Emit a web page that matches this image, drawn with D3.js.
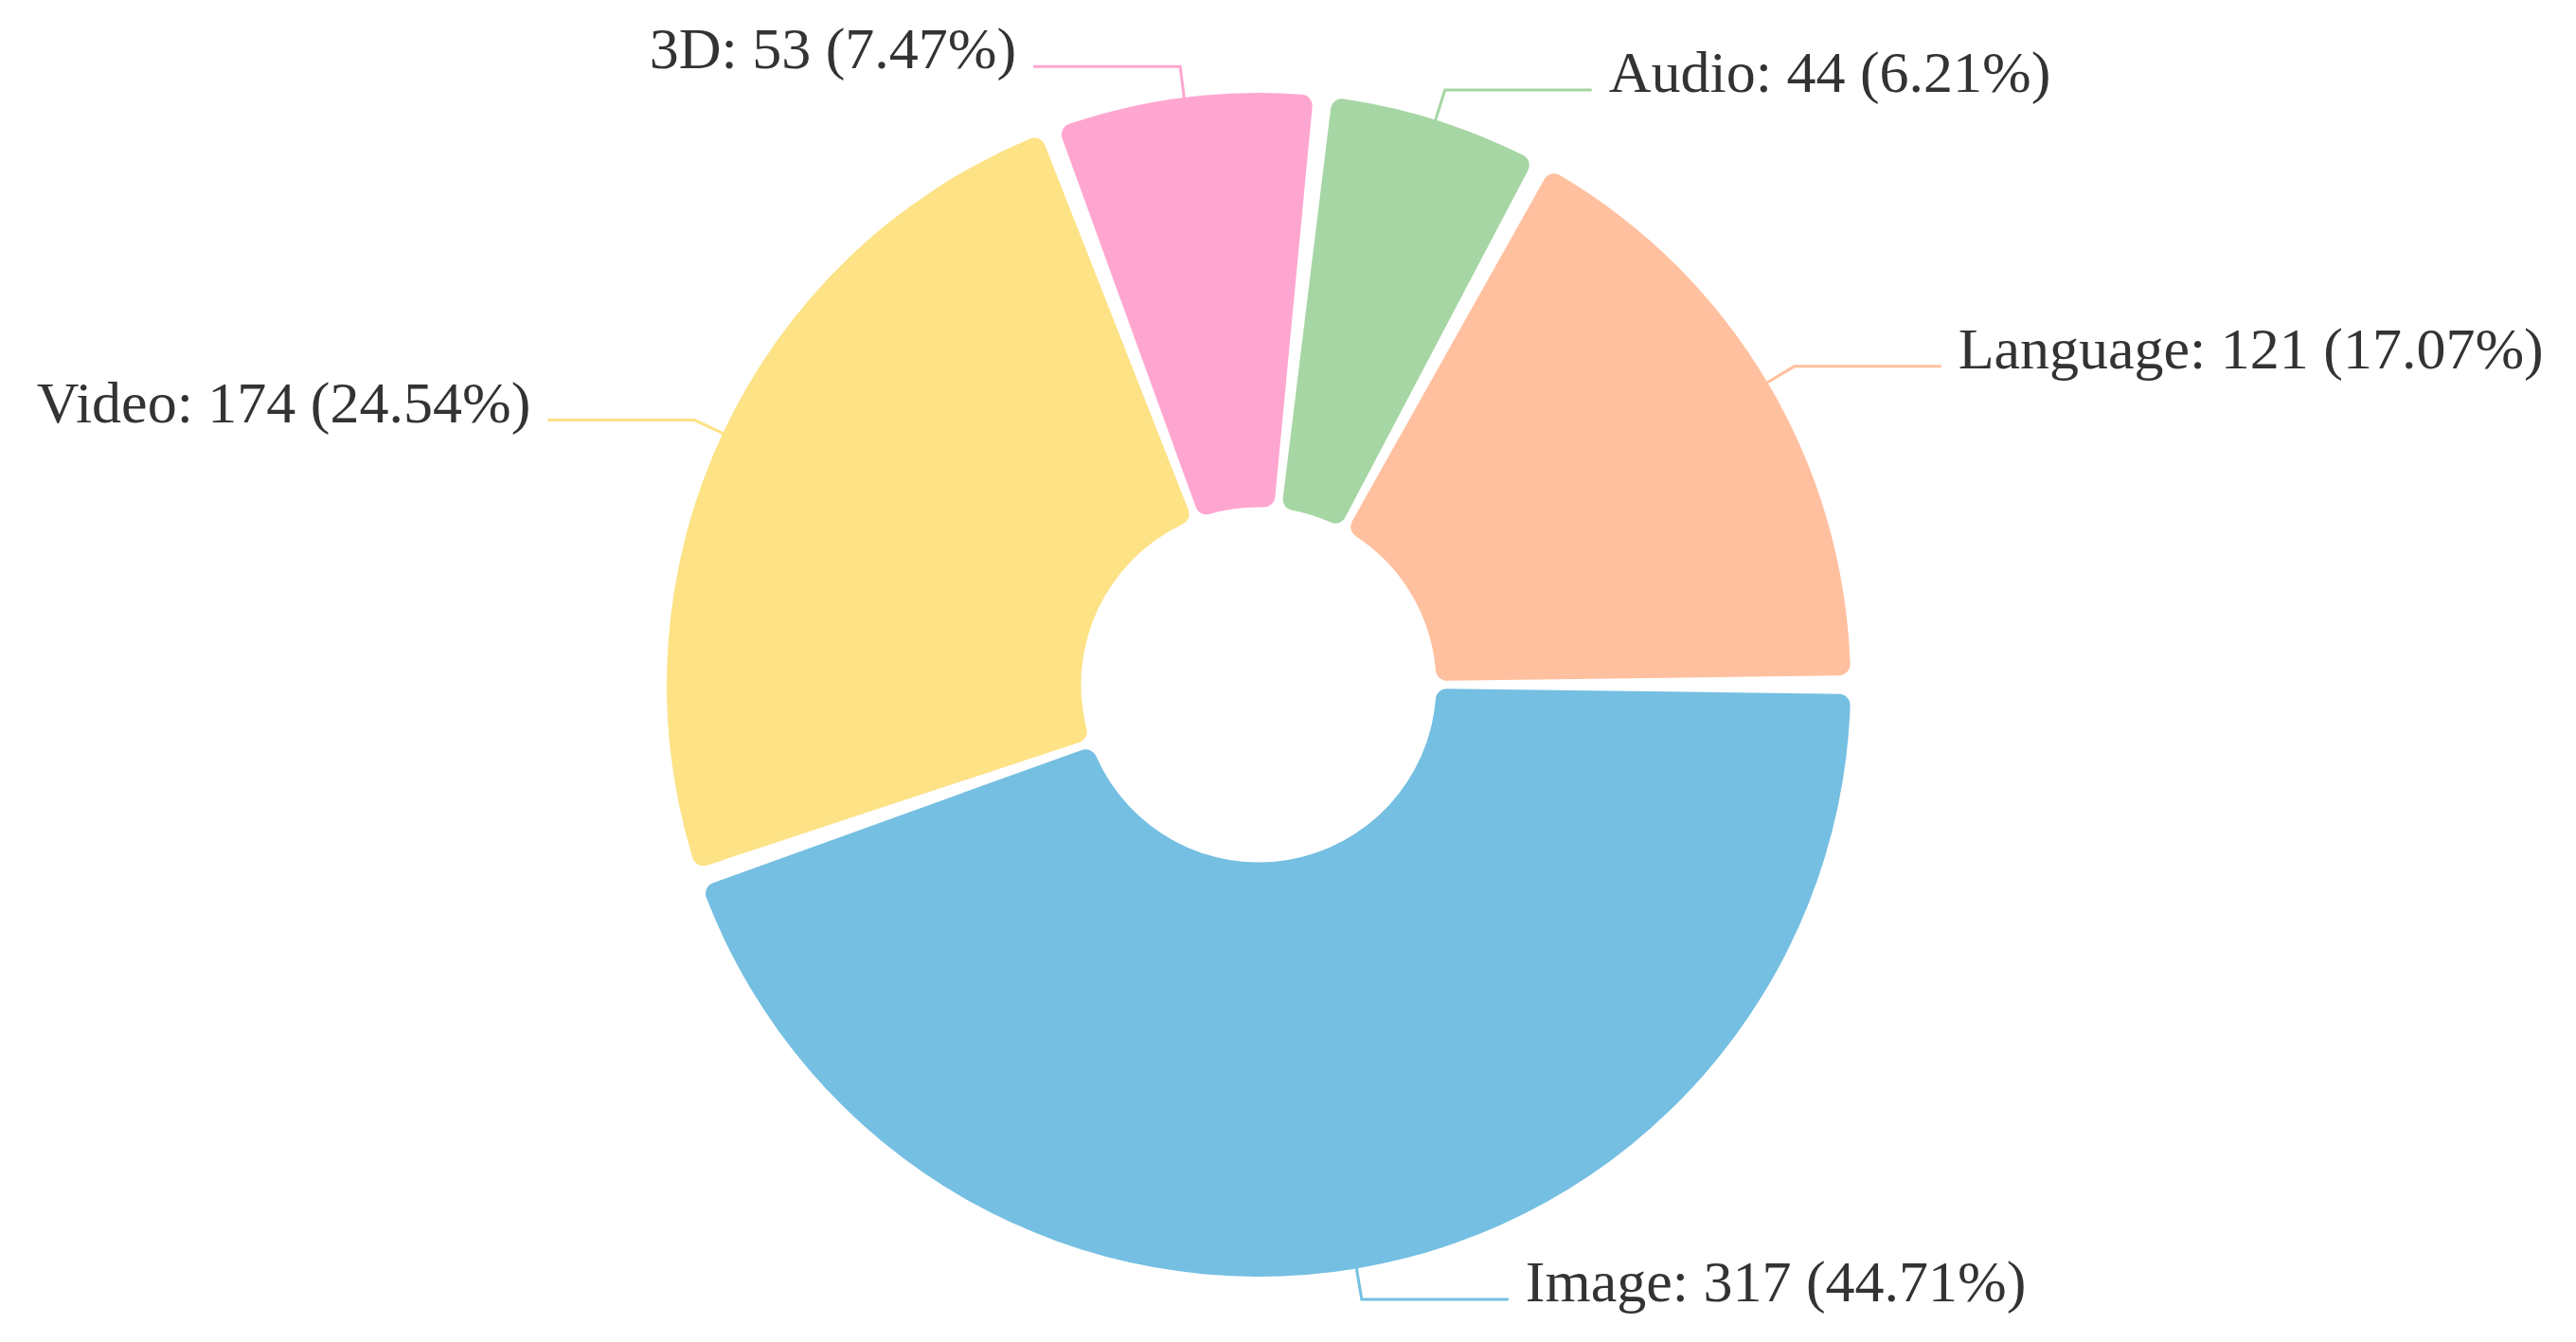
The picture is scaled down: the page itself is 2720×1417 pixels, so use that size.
<!DOCTYPE html>
<html>
<head>
<meta charset="utf-8">
<script src="https://cdn.jsdelivr.net/npm/d3@7"></script>
<style>
  html, body { margin: 0; padding: 0; background: #ffffff; }
  svg { display: block; }
</style>
</head>
<body>
<svg id="chart" width="2720" height="1417"></svg>
<script>
// ---- data ----
const categories = ["Image", "Video", "3D", "Audio", "Language"];
const values = [317, 174, 53, 44, 121];
const percentLabels = ["44.71", "24.54", "7.47", "6.21", "17.07"];
const colors = ["#75bfe2", "#fde286", "#ffa6d0", "#a5d6a3", "#ffc09f"];

// ---- layout ----
const W = 2720, H = 1417;
const cx = 1329, cy = 723;
const R = 625, r0 = R * 0.3;
const angTrim = 0.027;       // angular gap between slices
const linGap = 3;            // constant-width part of the gap
const elbowR = R + 33;
const seg2 = 155;
const textGap = 18;

const svg = d3.select("#chart");
svg.append("rect").attr("width", W).attr("height", H).attr("fill", "#ffffff");
const g = svg.append("g").attr("transform", `translate(${cx},${cy})`);

const data = categories.map((c, i) => ({ name: c, value: values[i], pct: percentLabels[i], color: colors[i] }));

const pie = d3.pie().sort(null).value(d => d.value)
  .startAngle(Math.PI / 2).endAngle(Math.PI / 2 + 2 * Math.PI);
const arcs = pie(data);

const arc = d3.arc()
  .innerRadius(r0).outerRadius(R)
  .cornerRadius(12)
  .padRadius(R)
  .padAngle(linGap / R)
  .startAngle(d => d.startAngle + angTrim / 2)
  .endAngle(d => d.endAngle - angTrim / 2);

g.selectAll("path.slice").data(arcs).enter().append("path")
  .attr("class", "slice")
  .attr("d", arc)
  .attr("fill", d => d.data.color);

// ---- labels ----
const pt = (a, rad) => [Math.sin(a) * rad, -Math.cos(a) * rad];

arcs.forEach(d => {
  const mid = (d.startAngle + d.endAngle) / 2;
  const p0 = pt(mid, R - 4);
  const p1 = pt(mid, elbowR);
  const right = Math.sin(mid) >= 0;
  const p2 = [p1[0] + (right ? seg2 : -seg2), p1[1]];
  g.append("polyline")
    .attr("points", [p0, p1, p2].map(p => p.join(",")).join(" "))
    .attr("fill", "none")
    .attr("stroke", d.data.color)
    .attr("stroke-width", 3);
  g.append("text")
    .attr("x", p2[0] + (right ? textGap : -textGap))
    .attr("y", p2[1] + 2)
    .attr("text-anchor", right ? "start" : "end")
    .attr("font-family", "'Liberation Serif', 'Times New Roman', serif")
    .attr("font-size", 62)
    .attr("fill", "#333333")
    .text(`${d.data.name}: ${d.data.value} (${d.data.pct}%)`);
});
</script>
</body>
</html>
